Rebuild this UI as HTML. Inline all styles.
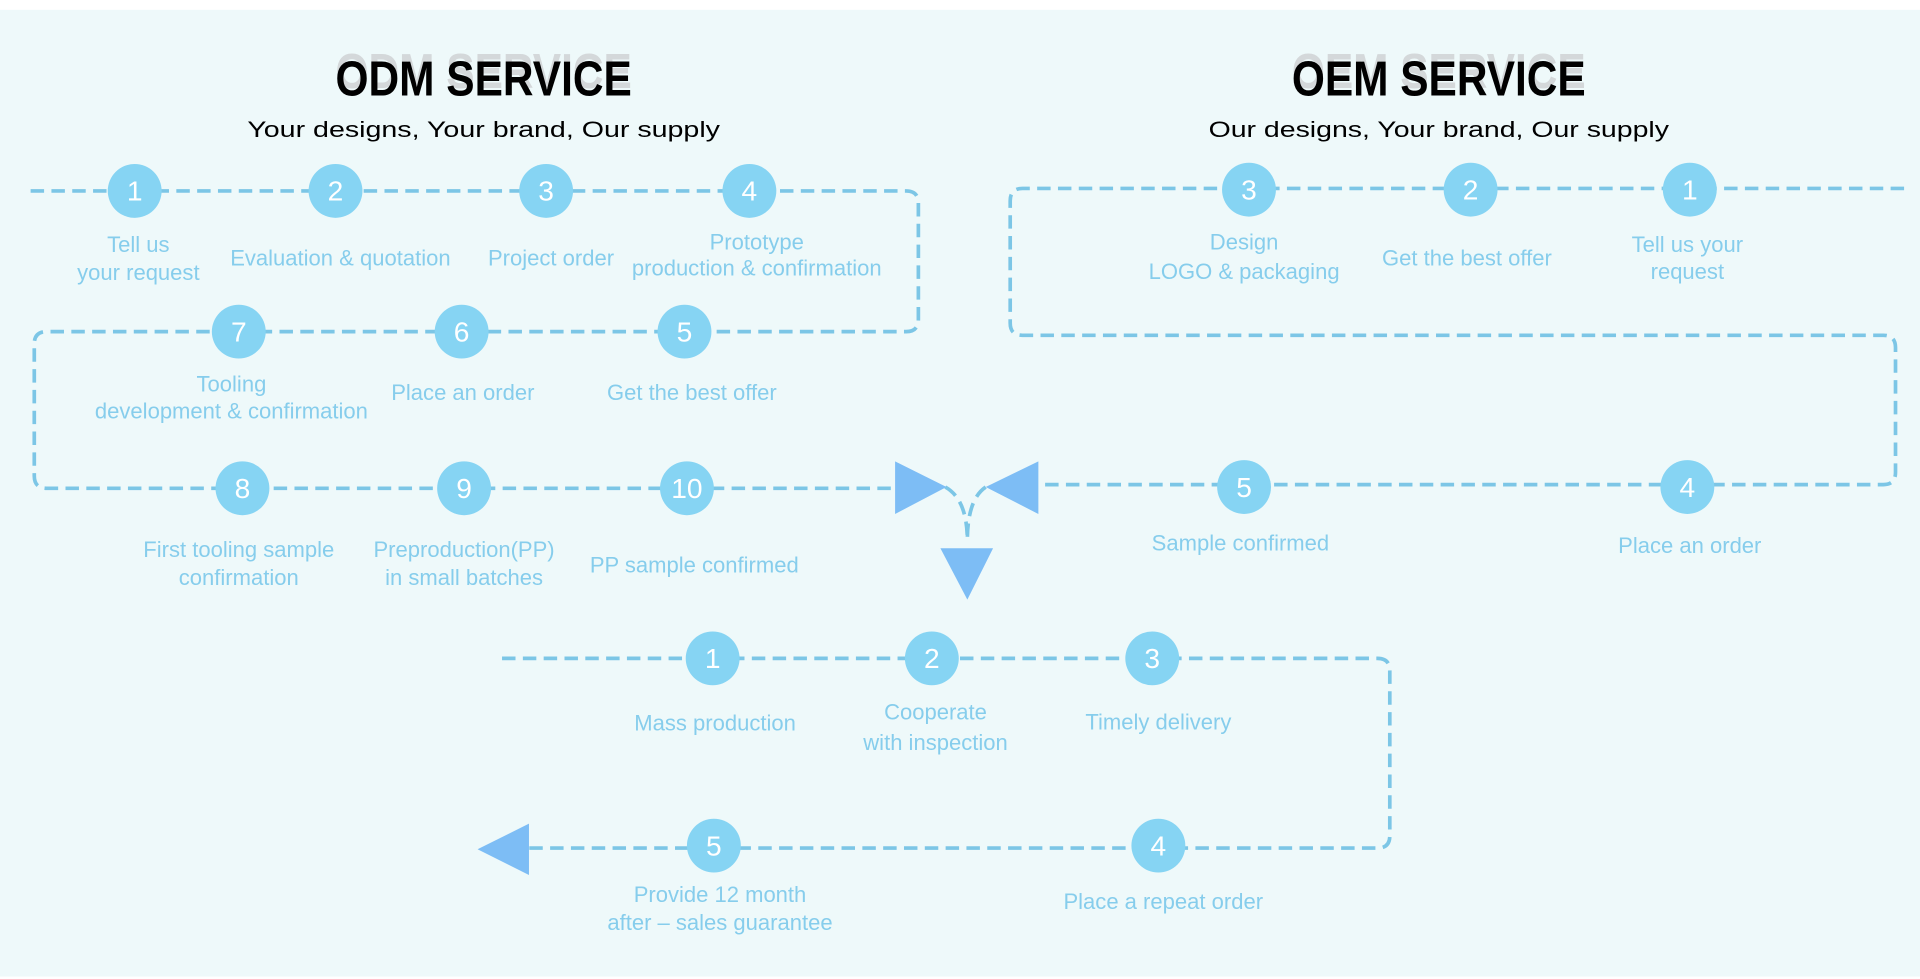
<!DOCTYPE html>
<html><head><meta charset="utf-8"><style>
html,body{margin:0;padding:0;background:#fff;}
svg{display:block}
.lbl{font-family:"Liberation Sans",sans-serif;font-size:18px;fill:#86cdec;text-anchor:middle}
.num{font-family:"Liberation Sans",sans-serif;font-size:23px;fill:#fff;text-anchor:middle}
.ttl{font-family:"Liberation Sans",sans-serif;font-weight:bold;font-size:40px;text-anchor:middle}
.sub{font-family:"Liberation Sans",sans-serif;font-size:18px;fill:#000;text-anchor:middle}
.d{fill:none;stroke:#7cc6e6;stroke-width:3;stroke-dasharray:11 6}
</style></head><body>
<svg width="1920" height="979" viewBox="0 0 1568 800" preserveAspectRatio="none">
<rect x="0" y="0" width="1568" height="800" fill="#fff"/>
<rect x="0" y="8" width="1568" height="790" fill="#eef9fa"/>
<text class="ttl" x="395" y="72" fill="#d4d8da" textLength="242" lengthAdjust="spacingAndGlyphs">ODM SERVICE</text>
<text class="ttl" x="395" y="78" fill="#000" textLength="242" lengthAdjust="spacingAndGlyphs">ODM SERVICE</text>
<text class="sub" x="395" y="112" textLength="386" lengthAdjust="spacingAndGlyphs">Your designs, Your brand, Our supply</text>
<text class="ttl" x="1175" y="72" fill="#d4d8da" textLength="240" lengthAdjust="spacingAndGlyphs">OEM SERVICE</text>
<text class="ttl" x="1175" y="78" fill="#000" textLength="240" lengthAdjust="spacingAndGlyphs">OEM SERVICE</text>
<text class="sub" x="1175" y="112" textLength="376" lengthAdjust="spacingAndGlyphs">Our designs, Your brand, Our supply</text>

<path class="d" d="M25 156 H740 Q750 156 750 166 V261 Q750 271 740 271 H38 Q28 271 28 281 V389 Q28 399 38 399 H731"/>
<path class="d" d="M1555 154 H835 Q825 154 825 164 V264 Q825 274 835 274 H1538 Q1548 274 1548 284 V386 Q1548 396 1538 396 H848"/>
<path class="d" d="M772 398 Q790 408 790 442"/>
<path class="d" d="M805 398 Q790 408 790 442"/>
<path class="d" d="M410 538 H1125 Q1135 538 1135 548 V683 Q1135 693 1125 693 H432"/>
<polygon points="731,377 731,420 773,398" fill="#7dbdf5"/>
<polygon points="848,377 848,420 805,398" fill="#7dbdf5"/>
<polygon points="768,448 811,448 790,490" fill="#7dbdf5"/>
<polygon points="432,673 432,715 390,694" fill="#7dbdf5"/>

<g fill="#86d4f3">
<circle cx="110" cy="156" r="22"/><circle cx="274" cy="156" r="22"/><circle cx="446" cy="156" r="22"/><circle cx="612" cy="156" r="22"/>
<circle cx="195" cy="271" r="22"/><circle cx="377" cy="271" r="22"/><circle cx="559" cy="271" r="22"/>
<circle cx="198" cy="399" r="22"/><circle cx="379" cy="399" r="22"/><circle cx="561" cy="399" r="22"/>
<circle cx="1020" cy="155" r="22"/><circle cx="1201" cy="155" r="22"/><circle cx="1380" cy="155" r="22"/>
<circle cx="1016" cy="398" r="22"/><circle cx="1378" cy="398" r="22"/>
<circle cx="582" cy="538" r="22"/><circle cx="761" cy="538" r="22"/><circle cx="941" cy="538" r="22"/>
<circle cx="946" cy="691" r="22"/><circle cx="583" cy="691" r="22"/>
</g>
<g>
<text x="110" y="164" class="num">1</text><text x="274" y="164" class="num">2</text><text x="446" y="164" class="num">3</text><text x="612" y="164" class="num">4</text>
<text x="195" y="279" class="num">7</text><text x="377" y="279" class="num">6</text><text x="559" y="279" class="num">5</text>
<text x="198" y="407" class="num">8</text><text x="379" y="407" class="num">9</text><text x="561" y="407" class="num">10</text>
<text x="1020" y="163" class="num">3</text><text x="1201" y="163" class="num">2</text><text x="1380" y="163" class="num">1</text>
<text x="1016" y="406" class="num">5</text><text x="1378" y="406" class="num">4</text>
<text x="582" y="546" class="num">1</text><text x="761" y="546" class="num">2</text><text x="941" y="546" class="num">3</text>
<text x="946" y="699" class="num">4</text><text x="583" y="699" class="num">5</text>
</g>
<g>
<text class="lbl" x="113" y="206">Tell us</text><text class="lbl" x="113" y="229">your request</text>
<text class="lbl" x="278" y="217">Evaluation &amp; quotation</text>
<text class="lbl" x="450" y="217">Project order</text>
<text class="lbl" x="618" y="204">Prototype</text><text class="lbl" x="618" y="225">production &amp; confirmation</text>
<text class="lbl" x="189" y="320">Tooling</text><text class="lbl" x="189" y="342">development &amp; confirmation</text>
<text class="lbl" x="378" y="327">Place an order</text>
<text class="lbl" x="565" y="327">Get the best offer</text>
<text class="lbl" x="195" y="455">First tooling sample</text><text class="lbl" x="195" y="478">confirmation</text>
<text class="lbl" x="379" y="455">Preproduction(PP)</text><text class="lbl" x="379" y="478">in small batches</text>
<text class="lbl" x="567" y="468">PP sample confirmed</text>
<text class="lbl" x="1016" y="204">Design</text><text class="lbl" x="1016" y="228">LOGO &amp; packaging</text>
<text class="lbl" x="1198" y="217">Get the best offer</text>
<text class="lbl" x="1378" y="206">Tell us your</text><text class="lbl" x="1378" y="228">request</text>
<text class="lbl" x="1013" y="450">Sample confirmed</text>
<text class="lbl" x="1380" y="452">Place an order</text>
<text class="lbl" x="584" y="597">Mass production</text>
<text class="lbl" x="764" y="588">Cooperate</text><text class="lbl" x="764" y="613">with inspection</text>
<text class="lbl" x="946" y="596">Timely delivery</text>
<text class="lbl" x="950" y="743">Place a repeat order</text>
<text class="lbl" x="588" y="737">Provide 12 month</text><text class="lbl" x="588" y="760">after – sales guarantee</text>
</g>
</svg>
</body></html>
